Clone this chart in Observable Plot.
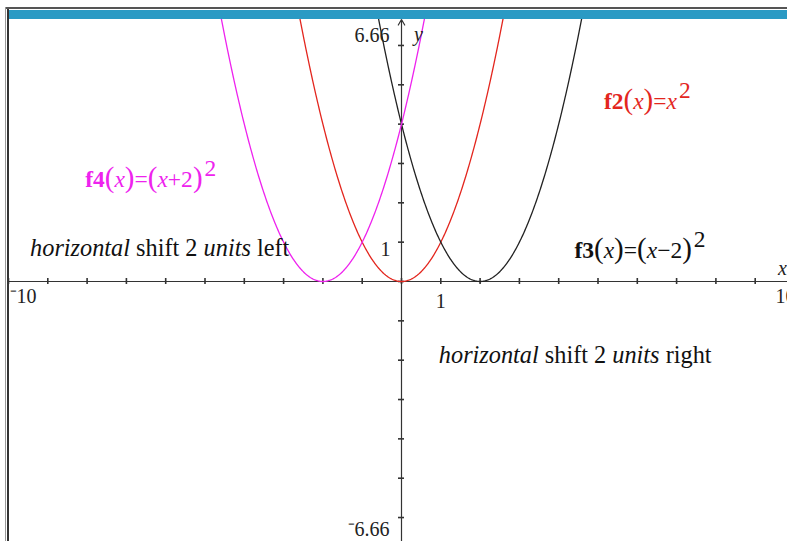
<!DOCTYPE html>
<html>
<head>
<meta charset="utf-8">
<script src="https://cdn.jsdelivr.net/npm/d3@7"></script>
<script src="https://cdn.jsdelivr.net/npm/@observablehq/plot@0.6"></script>
<style>
  body { margin: 0; background: #fff; overflow: hidden; }
  #wrap { position: relative; width: 787px; height: 541px; overflow: hidden; }
  #wrap svg { position: absolute; left: 0; top: 0; }
  .topline { position: absolute; left: 5px; right: 0; top: 7px; height: 2px; background: #555; }
  .bar { position: absolute; left: 8px; right: 0; top: 10px; height: 9px; background: #2a9ac4; }
  .lline1 { position: absolute; left: 5px; top: 7px; bottom: 0; width: 1px; background: #999; }
  .lline2 { position: absolute; left: 7px; top: 9px; bottom: 0; width: 2px; background: #333; }
</style>
</head>
<body>
<div id="wrap"></div>
<script>
// Window of the graph
const xDomain = [-10, 10];
const yDomain = [-6.66, 6.66];

// Integer tick positions along both axes
const xTicks = d3.range(-10, 11);
const yTicks = d3.range(-6, 7);

// Curves: f(x) = (x - h)^2
const curveNames = ["f2", "f3", "f4"];
const curveShifts = [0, 2, -2];

// Axis end labels
const xEndLabels = ["\u207B10", "10"];
const xEndValues = [-10, 10];
const yEndLabels = ["6.66", "\u207B6.66"];
const yEndValues = [6.66, -6.66];

// Equation and note texts, as styled runs
const eqF2 = [["f2", "b"], ["(", "p"], ["x", "i"], [")", "p"], ["=", ""], ["x", "i"], ["2", "sup"]];
const eqF4 = [["f4", "b"], ["(", "p"], ["x", "i"], [")", "p"], ["=", ""], ["(", "p"], ["x", "i"], ["+2", ""], [")", "p"], ["2", "sup"]];
const eqF3 = [["f3", "b"], ["(", "p"], ["x", "i"], [")", "p"], ["=", ""], ["(", "p"], ["x", "i"], ["\u22122", ""], [")", "p"], ["2", "sup"]];
const noteLeft = [["horizontal", "i"], [" shift 2 ", ""], ["units", "i"], [" left", ""]];
const noteRight = [["horizontal", "i"], [" shift 2 ", ""], ["units", "i"], [" right", ""]];

// --- drawing ---
const colors = {f2: "#e3261e", f3: "#222", f4: "#ee22ee"};
const step = 0.02;
const xs = d3.range(xDomain[0], xDomain[1] + step / 2, step);
const curves = curveNames.flatMap((name, i) =>
  xs.map(x => ({name, x, y: (x - curveShifts[i]) ** 2}))
);

const plain = runs => runs.map(r => r[0]).join("");
const equations = [
  {runs: eqF2, x: 5.15, y: 4.58, color: colors.f2},
  {runs: eqF4, x: -8.05, y: 2.6, color: colors.f4},
  {runs: eqF3, x: 4.4, y: 0.78, color: "#111"}
];
const notes = [
  {runs: noteLeft, x: -9.45, y: 0.85, color: "#111"},
  {runs: noteRight, x: 0.95, y: -1.88, color: "#111"}
];

const pxPerUnit = 786 / 20;
const half = 3 / pxPerUnit;
const font = "'Liberation Serif', 'Times New Roman', serif";
const tickFont = 20;

const chart = Plot.plot({
  width: 787,
  height: 541,
  marginLeft: 8,
  marginRight: -7,
  marginTop: 19,
  marginBottom: -2,
  x: {domain: xDomain, axis: null},
  y: {domain: yDomain, axis: null},
  style: {fontFamily: font, background: "transparent", overflow: "visible"},
  marks: [
    Plot.arrow([0], {x1: xDomain[0], x2: xDomain[1], y1: 0, y2: 0, stroke: "#333", strokeWidth: 1.2, headLength: 8}),
    Plot.arrow([0], {x1: 0, x2: 0, y1: yDomain[0], y2: yDomain[1], stroke: "#333", strokeWidth: 1.2, headLength: 8}),
    Plot.ruleX(xTicks, {x: d => d, y1: -half, y2: half, stroke: "#333", strokeWidth: 1.6}),
    Plot.ruleY(yTicks, {y: d => d, x1: -half, x2: half, stroke: "#333", strokeWidth: 1.6}),
    Plot.line(curves, {x: "x", y: "y", z: "name", stroke: d => colors[d.name], strokeWidth: 1.3, clip: true}),
    // tick labels
    Plot.text(["1"], {x: 1, y: 0, text: d => d, dy: 20, fontSize: tickFont, fill: "#222", fontFamily: font}),
    Plot.text(["1"], {x: 0, y: 1, text: d => d, dx: -16, dy: 7, fontSize: tickFont, fill: "#222", fontFamily: font}),
    Plot.text(xEndLabels, {x: (d, i) => xEndValues[i], y: 0, text: d => d, textAnchor: "start", dx: 1, dy: 15, fontSize: tickFont, fill: "#222", fontFamily: font}),
    Plot.text(yEndLabels, {x: 0, y: (d, i) => yEndValues[i], text: d => d, textAnchor: "end", dx: -12, fontSize: tickFont, fill: "#222", fontFamily: font}),
    Plot.text(["x"], {x: 10, y: 0, text: d => d, dx: -12, dy: -13, fontSize: tickFont, fontStyle: "italic", fill: "#222", fontFamily: font}),
    Plot.text(["y"], {x: 0, y: yDomain[1], text: d => d, dx: 17, dy: 15, fontSize: tickFont, fontStyle: "italic", fill: "#222", fontFamily: font}),
    // equations and notes
    Plot.text(equations, {x: "x", y: "y", text: d => plain(d.runs), fill: "color", textAnchor: "start", fontSize: 23.5, fontFamily: font}),
    Plot.text(notes, {x: "x", y: "y", text: d => plain(d.runs), fill: "color", textAnchor: "start", fontSize: 24.3, fontFamily: font})
  ]
});

// nudge the y-axis end labels inside the window, beside the outer ticks;
// the right end label of the x axis sits just before its tick
chart.querySelectorAll("text").forEach(t => {
  const tr = t.getAttribute("transform") || "";
  if (t.textContent === "6.66") t.setAttribute("transform", tr + " translate(0,16)");
  if (t.textContent === "\u207B6.66") t.setAttribute("transform", tr + " translate(0,-14)");
  if (t.textContent === "10") t.setAttribute("text-anchor", "end");
});

// rebuild equation/note texts from their styled runs
for (const a of [...equations, ...notes]) {
  const s = plain(a.runs);
  chart.querySelectorAll("text").forEach(t => {
    if (t.textContent !== s) return;
    while (t.firstChild) t.removeChild(t.firstChild);
    for (const [txt, st] of a.runs) {
      const ts = document.createElementNS("http://www.w3.org/2000/svg", "tspan");
      ts.textContent = txt;
      if (st === "b") ts.setAttribute("font-weight", "bold");
      if (st === "i") ts.setAttribute("font-style", "italic");
      if (st === "p") ts.setAttribute("font-size", "29");
      if (st === "sup") { ts.setAttribute("dy", "-11"); ts.setAttribute("dx", "2"); }
      t.appendChild(ts);
    }
  });
}

const wrap = document.getElementById("wrap");
wrap.appendChild(chart);
for (const c of ["topline", "bar", "lline1", "lline2"]) {
  const d = document.createElement("div");
  d.className = c;
  wrap.appendChild(d);
}
</script>
</body>
</html>
